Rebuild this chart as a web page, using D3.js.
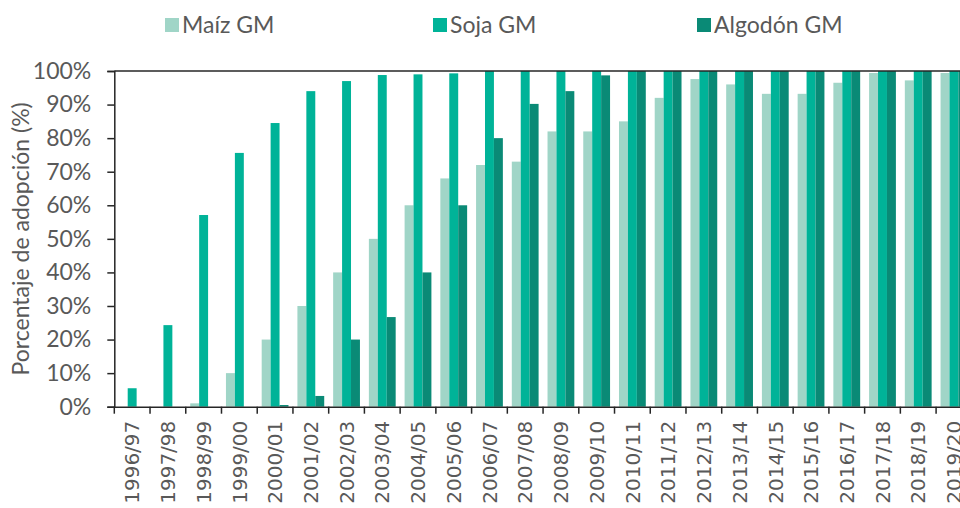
<!DOCTYPE html>
<html><head><meta charset="utf-8">
<script src="https://cdn.jsdelivr.net/npm/d3@7"></script>
<style>
html,body{margin:0;padding:0;background:#fff;overflow:hidden;}
text{font-family:Lato,"Open Sans",sans-serif;fill:#595959;}
</style></head>
<body><svg id="c" width="960" height="508"></svg>
<script>
const categories = ["1996/97","1997/98","1998/99","1999/00","2000/01","2001/02","2002/03","2003/04","2004/05","2005/06","2006/07","2007/08","2008/09","2009/10","2010/11","2011/12","2012/13","2013/14","2014/15","2015/16","2016/17","2017/18","2018/19","2019/20"];
const seriesNames = ["Maíz GM","Soja GM","Algodón GM"];
const maiz    = [0,0,1,10,20,30,40,50,60,68,72,73,82,82,85,92,97.6,96,93.2,93.2,96.5,99.4,97.2,99.4];
const soja    = [5.5,24.3,57.1,75.6,84.5,94,97,98.8,99,99.3,100,100,100,100,100,100,100,100,100,100,100,100,100,100];
const algodon = [0,0,0,0,0.5,3.2,20,26.7,40,60,80,90.2,94,98.7,100,100,100,100,100,100,100,100,100,100];
const yTicks = [0,10,20,30,40,50,60,70,80,90,100];
const colors = ["#a0d5c7","#00b398","#0a8a76"];

(function(){
const values = [maiz, soja, algodon];
const svg = d3.select("#c");
const mLeft = 114.3, mTop = 71, mBottom = 406.7, step = 35.73;
const mRight = mLeft + step * categories.length;

const x0 = d3.scaleBand().domain(categories).range([mLeft, mRight]).paddingInner(0).paddingOuter(0);
const x1 = d3.scaleBand().domain(seriesNames).range([0, x0.bandwidth()]).paddingInner(0).paddingOuter(0.5);
const y = d3.scaleLinear().domain([0,100]).range([mBottom, mTop]);

seriesNames.forEach((s, si) => {
  svg.append("g").selectAll("rect").data(categories).join("rect")
    .attr("x", c => x0(c) + x1(s))
    .attr("width", x1.bandwidth())
    .attr("y", (c, i) => y(values[si][i]))
    .attr("height", (c, i) => mBottom - y(values[si][i]))
    .attr("fill", colors[si]);
});

svg.append("line").attr("x1", mLeft).attr("x2", mRight).attr("y1", y(100)).attr("y2", y(100))
  .attr("stroke", "#262626").attr("stroke-width", 1.5);

const yAxis = svg.append("g").attr("transform", `translate(${mLeft},0)`)
  .call(d3.axisLeft(y).tickValues(yTicks).tickSize(7).tickPadding(16).tickFormat(d => d + "%"));
yAxis.select(".domain").attr("stroke", "#262626").attr("stroke-width", 1.5);
yAxis.selectAll(".tick line").attr("stroke", "#262626").attr("stroke-width", 1.5);
yAxis.selectAll(".tick text").style("font-size", "23px").style("font-family", "Lato").attr("fill", "#595959");

const xAxis = svg.append("g").attr("transform", `translate(0,${mBottom})`)
  .call(d3.axisBottom(x0).tickSize(0).tickFormat(""));
xAxis.select(".domain").attr("stroke", "#262626").attr("stroke-width", 1.5);
xAxis.selectAll(".tick").remove();
const bounds = categories.map(c => x0(c)).concat([mRight]);
xAxis.selectAll("line.tk").data(bounds).join("line").attr("class","tk")
  .attr("x1", d => d).attr("x2", d => d).attr("y1", 0).attr("y2", 7)
  .attr("stroke", "#262626").attr("stroke-width", 1.5);
xAxis.selectAll("text.lbl").data(categories).join("text").attr("class","lbl")
  .attr("transform", c => `translate(${x0(c) + x0.bandwidth()/2},14) rotate(-90)`)
  .attr("text-anchor", "end").attr("dy", "0.36em")
  .style("font-family", "'DejaVu Sans'").style("font-size", "20px")
  .text(c => c);

svg.append("text").attr("transform", `translate(21,${(mTop+mBottom)/2}) rotate(-90)`)
  .attr("text-anchor", "middle").attr("dy", "0.35em")
  .style("font-size", "23px").text("Porcentaje de adopción (%)");

const legX = [165, 433, 697];
const leg = svg.append("g").selectAll("g").data(seriesNames).join("g")
  .attr("transform", (d, i) => `translate(${legX[i]},18)`);
leg.append("rect").attr("width", 14).attr("height", 14).attr("fill", (d, i) => colors[i]);
leg.append("text").attr("x", 17).attr("y", 7).attr("dy", "0.35em")
  .style("font-size", "23px").text(d => d);
})();
</script></body></html>
